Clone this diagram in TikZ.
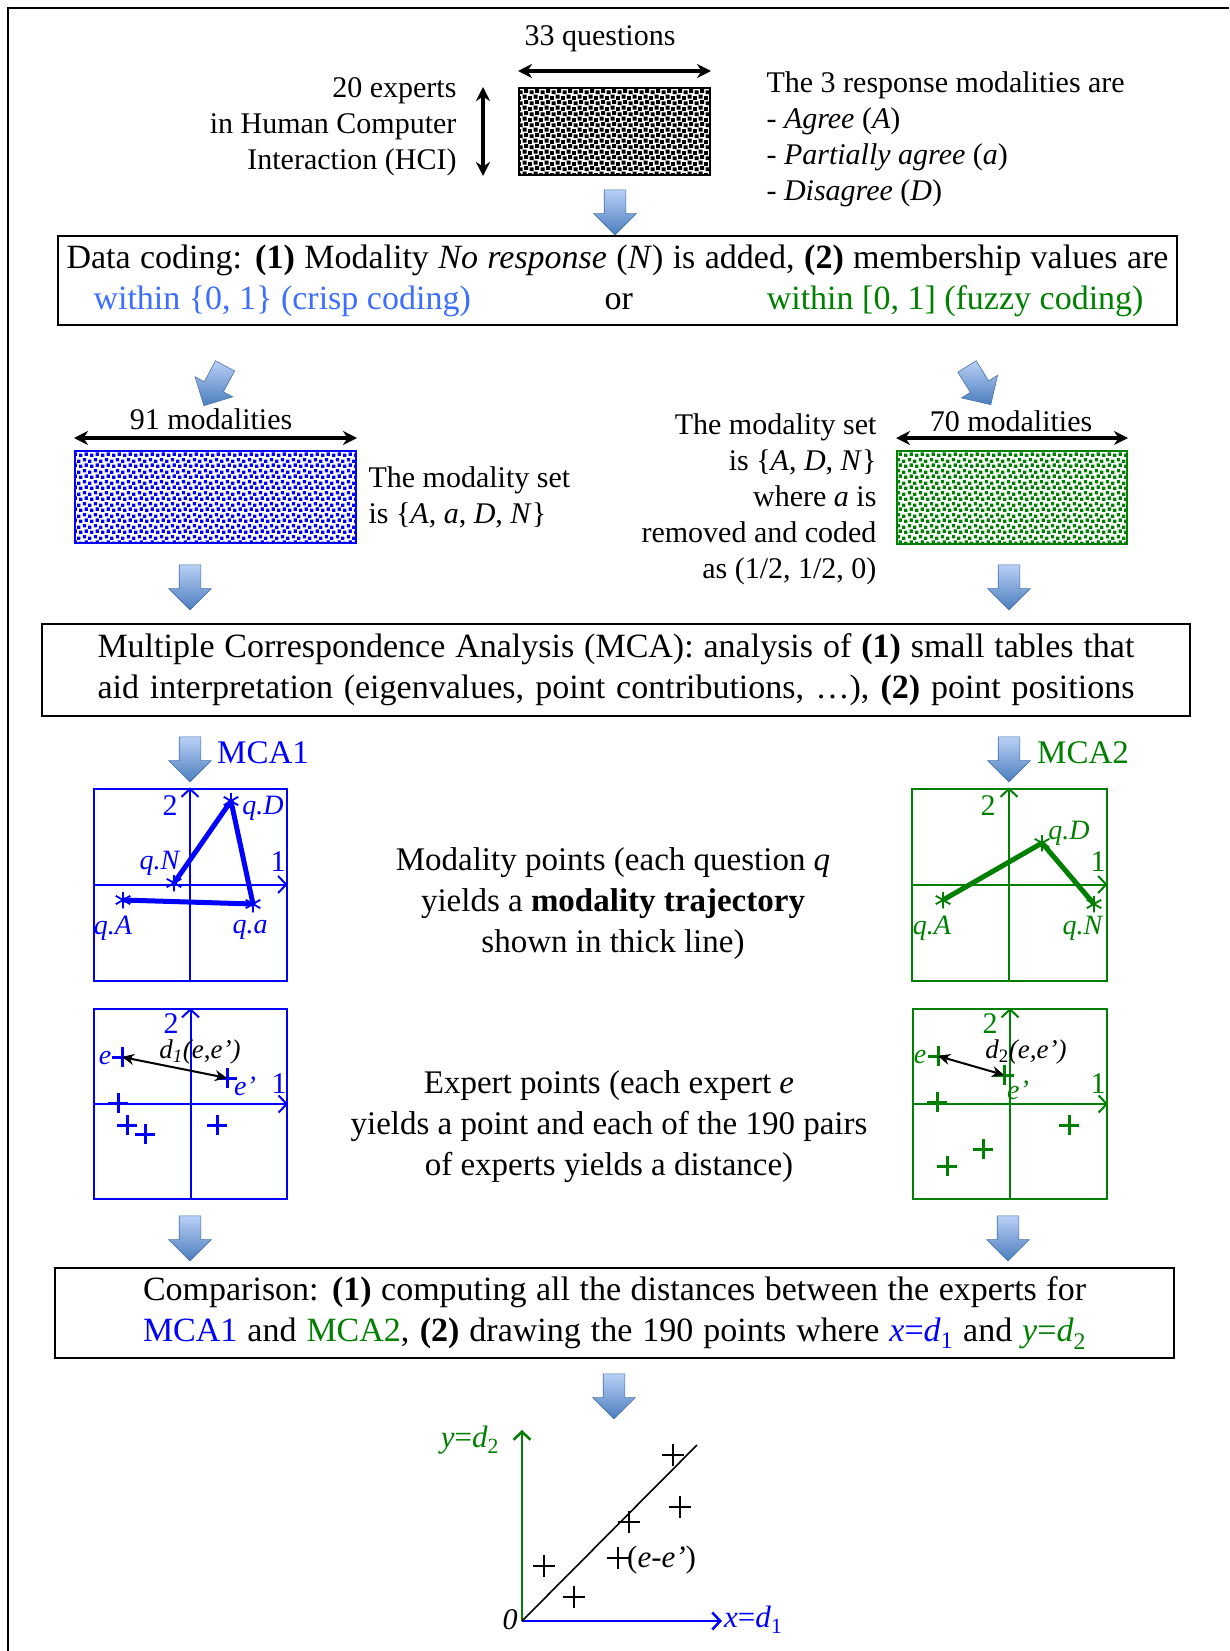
\documentclass[tikz,border=0pt]{standalone}
\usepackage{fontspec}
\setmainfont{Liberation Serif}
\usetikzlibrary{arrows.meta,positioning,shapes.arrows,shapes.misc,patterns}

\definecolor{crispblue}{RGB}{60,110,255}
\definecolor{fuzzgreen}{RGB}{0,128,0}
\definecolor{mcablue}{RGB}{0,0,255}
\definecolor{arrtop}{RGB}{185,208,245}
\definecolor{arrbot}{RGB}{75,125,190}
\definecolor{arredge}{RGB}{70,115,175}

% speckled fill of the data tables
\pgfdeclarepatternformonly{speckle}{\pgfqpoint{-1pt}{-1pt}}{\pgfqpoint{12pt}{12pt}}{\pgfqpoint{11pt}{11pt}}{%
  \pgfpathrectangle{\pgfqpoint{0pt}{0pt}}{\pgfqpoint{3.3pt}{3.3pt}}%
  \pgfpathrectangle{\pgfqpoint{5.8pt}{1.5pt}}{\pgfqpoint{3.3pt}{3.3pt}}%
  \pgfpathrectangle{\pgfqpoint{2pt}{6pt}}{\pgfqpoint{3.3pt}{3.3pt}}%
  \pgfpathrectangle{\pgfqpoint{7.5pt}{7.2pt}}{\pgfqpoint{3.3pt}{3.3pt}}%
  \pgfusepath{fill}}
\pgfdeclarepatternformonly{densespeckle}{\pgfqpoint{-1pt}{-1pt}}{\pgfqpoint{12pt}{12pt}}{\pgfqpoint{11pt}{11pt}}{%
  \pgfpathrectangle{\pgfqpoint{0pt}{0pt}}{\pgfqpoint{3.9pt}{3.9pt}}%
  \pgfpathrectangle{\pgfqpoint{5.6pt}{1.4pt}}{\pgfqpoint{3.9pt}{3.9pt}}%
  \pgfpathrectangle{\pgfqpoint{1.7pt}{5.8pt}}{\pgfqpoint{3.9pt}{3.9pt}}%
  \pgfpathrectangle{\pgfqpoint{7.2pt}{7pt}}{\pgfqpoint{3.9pt}{3.9pt}}%
  \pgfusepath{fill}}

\begin{document}
\begin{tikzpicture}[x=1pt,y=-1pt,
  blk/.style={single arrow, draw=arredge, line width=0.6pt, top color=arrtop, bottom color=arrbot,
    shape border rotate=270, minimum height=45pt, inner sep=10.5pt, single arrow head extend=10.5pt},
  dbl/.style={{Stealth[length=14pt,width=14pt]}-{Stealth[length=14pt,width=14pt]}, line width=3.4pt},
  dist/.style={{Stealth[length=12pt,width=11pt]}-{Stealth[length=12pt,width=11pt]}, line width=2pt},
  textbox/.style={draw, line width=2pt, inner sep=0pt, align=center, font=\fontsize{34}{41}\selectfont},
  speck/.style={draw=#1, line width=2pt, inner sep=0pt, pattern=speckle, pattern color=#1},
  plotfrm/.style={draw=#1, line width=2pt, inner sep=0pt},
  ax/.style={-{Straight Barb[length=8pt,width=17pt]}, line width=2pt},
  astk/.style={circle, inner sep=0pt, minimum size=17pt, path picture={
    \foreach \a/\b in {90/270,30/210,150/330}
      \draw[line width=1.8pt] (path picture bounding box.\a) -- (path picture bounding box.\b);}},
  traj/.style={line width=5pt, line join=round},
  pls/.style={cross out, draw, rotate=45, inner sep=0pt, minimum size=11pt, line width=3pt},
  thinpls/.style={cross out, draw, rotate=45, inner sep=0pt, minimum size=14pt, line width=1.3pt},
  lbl/.style={inner sep=0pt, font=\fontsize{28}{28}\selectfont},
  midtext/.style={align=center, font=\fontsize{33}{41}\selectfont},
  toptext/.style={font=\fontsize{30}{36}\selectfont}
]
\fill[white] (0,0) rectangle (1229,1651);
\useasboundingbox (0,0) rectangle (1229,1651);
\draw[line width=2.5pt] (8,1651) -- (8,8) -- (1229,8);

% the raw data table
\node[toptext] (nq) at (600,39) {33 questions};
\node[speck=black, pattern=densespeckle, minimum width=191pt, minimum height=87pt] (data) at (614.5,131.5) {};
\draw[dbl] ([yshift=16pt]data.north west) -- ([yshift=16pt]data.north east);
\draw[dbl] ([xshift=-35pt]data.north west) -- ([xshift=-35pt]data.south west);
\node[toptext, align=right, anchor=east] (experts) at (460,127) {20 experts\\in Human Computer\\Interaction (HCI)};
\node[toptext, align=left, anchor=west] (resp) at (763,139) {The 3 response modalities are\\- \textit{Agree} (\textit{A})\\- \textit{Partially agree} (\textit{a})\\- \textit{Disagree} (\textit{D})};
\node[blk] (a0) at (615,207) {};

\node[textbox, minimum width=1119pt, minimum height=89pt] (coding) at (617.5,280.5) {%
  \makebox[1102pt][s]{Data coding: \textbf{(1)} Modality \textit{No response} (\textit{N}) is added, \textbf{(2)} membership values are}\\
  \makebox[1102pt]{\hspace{27pt}\textcolor{crispblue}{within \{0, 1\} (crisp coding)}\hfill or\hfill\textcolor{fuzzgreen}{within [0, 1] (fuzzy coding)}\hspace{25pt}}};

% crisp and fuzzy tables
\node[blk, rotate=-28] (a1) at (217,381) {};
\node[blk, rotate=32] (a2) at (976,381) {};
\node[toptext] (m91) at (211,419) {91 modalities};
\node[speck=mcablue, minimum width=281pt, minimum height=92pt] (crisp) at (215.5,497) {};
\draw[dbl] ([yshift=12pt]crisp.north west) -- ([yshift=12pt]crisp.north east);
\node[toptext, align=left, anchor=west] (cset) at (365,497) {The modality set\\ is \{\textit{A}, \textit{a}, \textit{D}, \textit{N}\}};
\node[toptext] (m70) at (1011,421) {70 modalities};
\node[speck=fuzzgreen, minimum width=230pt, minimum height=93pt] (fuzzy) at (1012,497.5) {};
\draw[dbl] ([yshift=12pt]fuzzy.north west) -- ([yshift=12pt]fuzzy.north east);
\node[toptext, align=right, anchor=east] (fset) at (880,499) {The modality set\\is \{\textit{A}, \textit{D}, \textit{N}\}\\where \textit{a} is\\removed and coded\\as (1/2, 1/2, 0)};
\node[blk] (a3) at (190,582) {};
\node[blk] (a4) at (1009,582) {};

\node[textbox, minimum width=1148pt, minimum height=92pt] (mca) at (616,670) {%
  \makebox[1037pt][s]{Multiple Correspondence Analysis (MCA): analysis of \textbf{(1)} small tables that}\\
  \makebox[1037pt][s]{aid interpretation (eigenvalues, point contributions, \ldots), \textbf{(2)} point positions}};

\node[blk] (a5) at (190,754) {};
\node[blk] (a6) at (1009,754) {};
\node[anchor=west, inner sep=0pt, text=mcablue, font=\fontsize{33}{33}\selectfont] (mca1) at (217,753) {MCA1};
\node[anchor=west, inner sep=0pt, text=fuzzgreen, font=\fontsize{33}{33}\selectfont] (mca2) at (1037,753) {MCA2};

% modality trajectories, MCA1
\node[plotfrm=mcablue, minimum width=193pt, minimum height=192pt] (p1) at (190,884.5) {};
\draw[ax, mcablue] (p1.south) -- (p1.north);
\draw[ax, mcablue] (p1.west) -- (p1.east);
\node[lbl, text=mcablue, font=\fontsize{30}{30}\selectfont] (p1y) at (170,806) {2};
\node[lbl, text=mcablue, font=\fontsize{30}{30}\selectfont] (p1x) at (278,862) {1};
\node[astk, mcablue] (qD1) at (231,801) {};
\node[astk, mcablue] (qN1) at (174,883) {};
\node[astk, mcablue] (qA1) at (123,900) {};
\node[astk, mcablue] (qa1) at (253,904) {};
\draw[traj, mcablue] (qA1.center) -- (qa1.center) -- (qD1.center) -- (qN1.center);
\node[lbl, text=mcablue] (lD1) at (263,808) {\textit{q.D}};
\node[lbl, text=mcablue] (lN1) at (160,863) {\textit{q.N}};
\node[lbl, text=mcablue] (lA1) at (113,928) {\textit{q.A}};
\node[lbl, text=mcablue] (la1) at (250,930) {\textit{q.a}};

% modality trajectories, MCA2
\node[plotfrm=fuzzgreen, minimum width=195pt, minimum height=192pt] (p2) at (1009,884.5) {};
\draw[ax, fuzzgreen] (p2.south) -- (p2.north);
\draw[ax, fuzzgreen] (p2.west) -- (p2.east);
\node[lbl, text=fuzzgreen, font=\fontsize{30}{30}\selectfont] (p2y) at (988,806) {2};
\node[lbl, text=fuzzgreen, font=\fontsize{30}{30}\selectfont] (p2x) at (1098,862) {1};
\node[astk, fuzzgreen] (qA2) at (943,900) {};
\node[astk, fuzzgreen] (qD2) at (1042,843) {};
\node[astk, fuzzgreen] (qN2) at (1094,904) {};
\draw[traj, fuzzgreen] (qA2.center) -- (qD2.center) -- (qN2.center);
\node[lbl, text=fuzzgreen] (lD2) at (1069,833) {\textit{q.D}};
\node[lbl, text=fuzzgreen] (lA2) at (932,928) {\textit{q.A}};
\node[lbl, text=fuzzgreen] (lN2) at (1083,928) {\textit{q.N}};

\node[midtext] (modtxt) at (613,904) {Modality points (each question \textit{q}\\yields a \textbf{modality trajectory}\\shown in thick line)};

% expert points, MCA1
\node[plotfrm=mcablue, minimum width=193pt, minimum height=190pt] (p3) at (190.5,1104) {};
\draw[ax, mcablue] (p3.south) -- (p3.north);
\draw[ax, mcablue] (p3.west) -- (p3.east);
\node[lbl, text=mcablue, font=\fontsize{30}{30}\selectfont] (p3y) at (171,1024) {2};
\node[lbl, text=mcablue, font=\fontsize{30}{30}\selectfont] (p3x) at (279,1084) {1};
\node[pls, mcablue] (e1) at (122,1057) {};
\node[pls, mcablue] (f1) at (227,1078) {};
\node[pls, mcablue] (g1) at (118,1103) {};
\node[pls, mcablue] (h1) at (127,1125) {};
\node[pls, mcablue] (i1) at (145,1134) {};
\node[pls, mcablue] (j1) at (217,1125) {};
\draw[dist] (e1.center) -- (f1.center);
\node[lbl, text=mcablue] (le1) at (105,1058) {\textit{e}};
\node[lbl, text=mcablue] (lf1) at (245,1086) {\textit{e'}};
\node[lbl, font=\fontsize{27}{27}\selectfont] (d1) at (200,1052) {\textit{d}\textsubscript{\textit{1}}\textit{(e,e')}};

% expert points, MCA2
\node[plotfrm=fuzzgreen, minimum width=194pt, minimum height=190pt] (p4) at (1010,1104) {};
\draw[ax, fuzzgreen] (p4.south) -- (p4.north);
\draw[ax, fuzzgreen] (p4.west) -- (p4.east);
\node[lbl, text=fuzzgreen, font=\fontsize{30}{30}\selectfont] (p4y) at (990,1024) {2};
\node[lbl, text=fuzzgreen, font=\fontsize{30}{30}\selectfont] (p4x) at (1098,1084) {1};
\node[pls, fuzzgreen] (e2) at (938,1056) {};
\node[pls, fuzzgreen] (f2) at (1004,1075) {};
\node[pls, fuzzgreen] (g2) at (937,1102) {};
\node[pls, fuzzgreen] (h2) at (1069,1125) {};
\node[pls, fuzzgreen] (i2) at (983,1149) {};
\node[pls, fuzzgreen] (j2) at (947,1166) {};
\draw[dist] (e2.center) -- (f2.center);
\node[lbl, text=fuzzgreen] (le2) at (920,1057) {\textit{e}};
\node[lbl, text=fuzzgreen] (lf2) at (1018,1090) {\textit{e'}};
\node[lbl, font=\fontsize{27}{27}\selectfont] (d2) at (1026,1052) {\textit{d}\textsubscript{2}\textit{(e,e')}};

\node[midtext] (exptxt) at (609,1127) {Expert points (each expert \textit{e}\\yields a point and each of the 190 pairs\\of experts yields a distance)};

\node[blk] (a7) at (190,1233) {};
\node[blk] (a8) at (1008,1233) {};

\node[textbox, minimum width=1119pt, minimum height=90pt] (comp) at (614.5,1313) {%
  \makebox[943pt][s]{Comparison: \textbf{(1)} computing all the distances between the experts for}\\
  \makebox[943pt][s]{\textcolor{mcablue}{MCA1} and \textcolor{fuzzgreen}{MCA2}, \textbf{(2)} drawing the 190 points where \textcolor{mcablue}{\textit{x}=\textit{d}\textsubscript{1}} and \textcolor{fuzzgreen}{\textit{y}=\textit{d}\textsubscript{2}}}};

\node[blk] (a9) at (614,1391) {};

% distances compared
\coordinate (o) at (522,1621);
\coordinate (ytop) at (522,1430);
\coordinate (xend) at (722,1621);
\coordinate (dend) at (697,1445);
\draw[ax, fuzzgreen, line width=2.5pt] (o) -- (ytop);
\draw[ax, mcablue, line width=2.5pt] (o) -- (xend);
\draw[line width=1.6pt] (o) -- (dend);
\node[lbl, font=\fontsize{30}{30}\selectfont] (zero) at (510,1620) {\textit{0}};
\node[lbl, text=fuzzgreen, font=\fontsize{31}{31}\selectfont] (ylab) at (470,1440) {\textit{y}=\textit{d}\textsubscript{2}};
\node[lbl, text=mcablue, font=\fontsize{31}{31}\selectfont, anchor=west] (xlab) at (724,1620) {\textit{x}=\textit{d}\textsubscript{1}};
\node[thinpls] (s1) at (673,1455) {};
\node[thinpls] (s2) at (680,1507) {};
\node[thinpls] (s3) at (629,1522) {};
\node[thinpls] (s4) at (618,1558) {};
\node[thinpls] (s5) at (544,1566) {};
\node[thinpls] (s6) at (574,1597) {};
\node[lbl, font=\fontsize{31}{31}\selectfont, anchor=west] (pair) at (627,1560) {(\textit{e}-\textit{e'})};
\end{tikzpicture}
\end{document}
